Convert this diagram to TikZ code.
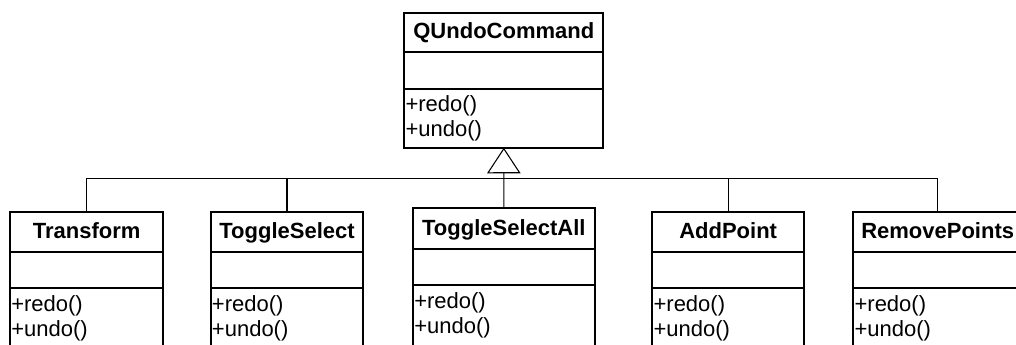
\documentclass[tikz,border=0pt]{standalone}
\usepackage{fontspec}
\setmainfont{Liberation Sans}
\usetikzlibrary{fit,arrows.meta}

\tikzset{
  x=0.75pt, y=-0.75pt,
  uml/.style={draw, line width=1.5pt, inner sep=0pt},
  heading/.style={anchor=base, inner sep=0pt,
                  font=\bfseries\fontsize{16.5pt}{19pt}\selectfont},
  member/.style={anchor=base west, inner sep=0pt,
                 font=\fontsize{16.5pt}{19pt}\selectfont},
  link/.style={draw, line width=0.8pt},
  generalization/.style={link, -{Triangle[open, length=19.2pt, width=25pt, line width=0.8pt]}}
}

% UML class box: name, left, right, top, first separator, second separator, bottom, title
\newcommand{\umlclass}[8]{%
  \coordinate (#1-a) at (#2,#4);
  \coordinate (#1-b) at (#3,#5);
  \node[uml, fit=(#1-a)(#1-b)] (#1) {};
  \node[heading] (#1-title) at ({(#2+#3)/2},#5-13.5) {#8};
  \draw[uml] (#2,#5) rectangle (#3,#6);
  \draw[uml] (#2,#6) rectangle (#3,#7);
  \coordinate (#1-bottom) at ({(#2+#3)/2},#7);
  \node[member] (#1-redo) at (#2+1,#6+23) {+redo()};
  \node[member] (#1-undo) at (#2+1,#6+48) {+undo()};
}

\begin{document}
\begin{tikzpicture}
  \useasboundingbox (0,0) rectangle (1016,344);
  \clip (0,0) rectangle (1016,344);

  % base class
  \umlclass{QUndoCommand}{404.3}{603.3}{12.7}{52.3}{88.7}{147.7}{QUndoCommand}

  % derived commands
  \umlclass{Transform}{10}{163.3}{212.3}{252.3}{288.3}{360}{Transform}
  \umlclass{ToggleSelect}{210.7}{363.3}{212.3}{252.3}{288.3}{360}{ToggleSelect}
  \umlclass{ToggleSelectAll}{413}{594.7}{208.3}{249.3}{285.3}{360}{ToggleSelectAll}
  \umlclass{AddPoint}{652.3}{804}{212.3}{252.3}{288.3}{360}{AddPoint}
  \umlclass{RemovePoints}{853.3}{1022}{212.3}{252.3}{288.3}{360}{RemovePoints}

  % inheritance tree
  \coordinate (bar) at (504,178.5);
  \draw[link] (Transform.north) -- (Transform.north |- bar)
              -- (RemovePoints.north |- bar) -- (RemovePoints.north);
  \draw[link] (ToggleSelect.north) -- (ToggleSelect.north |- bar);
  \draw[link] (AddPoint.north) -- (AddPoint.north |- bar);
  \draw[generalization] (ToggleSelectAll.north) -- (QUndoCommand-bottom);
\end{tikzpicture}
\end{document}
